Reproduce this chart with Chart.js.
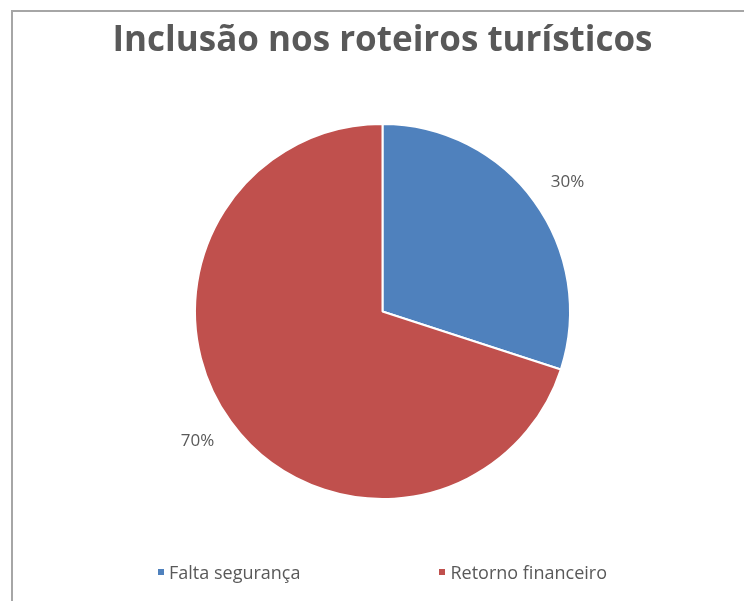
<!DOCTYPE html>
<html>
<head>
<meta charset="utf-8">
<script src="https://cdn.jsdelivr.net/npm/chart.js@4"></script>
<style>
  html, body { margin: 0; padding: 0; background: #fff; overflow: hidden; }
  #frame {
    position: absolute; left: 11px; top: 10px; right: 0; bottom: 0;
    border-left: 2px solid #a6a6a6; border-top: 2px solid #a6a6a6;
  }
  #pieChart { position: absolute; left: 0; top: 0; }
  #legend {
    position: absolute; left: 8px; right: 0; top: 548px;
    display: flex; justify-content: center; gap: 139px;
    font: 18px "Open Sans", sans-serif; color: #595959;
  }
  #legend span.item { display: flex; align-items: center; }
  #legend span.box { width: 6px; height: 6px; margin-right: 5px; display: inline-block; }
</style>
</head>
<body>
<div id="frame">
  <canvas id="pieChart" width="731" height="589"></canvas>
  <div id="legend"></div>
</div>
<script>
// data
var categories = ["Falta segurança", "Retorno financeiro"];
var values = [30, 70];
var colors = ["#4F81BD", "#C0504D"];

// percent labels just outside the slices (box pushed outward like Excel's "outside end")
var outsideLabels = {
  id: "outsideLabels",
  afterDatasetsDraw: function (chart) {
    var ctx = chart.ctx;
    var meta = chart.getDatasetMeta(0);
    var total = values.reduce(function (a, b) { return a + b; }, 0);
    var fontSize = 17;
    ctx.save();
    ctx.font = fontSize + 'px "Open Sans", sans-serif';
    ctx.fillStyle = "#595959";
    ctx.textAlign = "center";
    ctx.textBaseline = "middle";
    meta.data.forEach(function (arc, i) {
      var p = arc.getProps(["x", "y", "startAngle", "endAngle", "outerRadius"]);
      var mid = (p.startAngle + p.endAngle) / 2;
      var r = p.outerRadius * 1.13;
      var pct = Math.round(values[i] / total * 100) + "%";
      var w = ctx.measureText(pct).width;
      var cx = p.x + Math.cos(mid) * (r + w / 2);
      var cy = p.y + Math.sin(mid) * (r + fontSize / 2);
      ctx.fillText(pct, cx, cy);
    });
    ctx.restore();
  }
};

var ctx = document.getElementById("pieChart").getContext("2d");
var myChart = new Chart(ctx, {
  type: "pie",
  data: {
    labels: categories,
    datasets: [
      {
        data: values,
        backgroundColor: colors,
        borderColor: "#ffffff",
        borderWidth: 2,
      },
    ],
  },
  options: {
    responsive: false,
    animation: false,
    devicePixelRatio: 1,
    layout: { padding: { left: 8, right: 0, bottom: 101 } },
    plugins: {
      legend: { display: false },
      tooltip: { enabled: false },
      title: {
        display: true,
        text: "Inclusão nos roteiros turísticos",
        color: "#595959",
        font: { family: "Open Sans", size: 35, weight: "bold" },
        padding: { top: 8, bottom: 61 },
      },
    },
  },
  plugins: [outsideLabels],
});

// legend
var legendEl = document.getElementById("legend");
categories.forEach(function (c, i) {
  var item = document.createElement("span");
  item.className = "item";
  var box = document.createElement("span");
  box.className = "box";
  box.style.background = colors[i];
  item.appendChild(box);
  item.appendChild(document.createTextNode(c));
  legendEl.appendChild(item);
});
</script>
</body>
</html>
